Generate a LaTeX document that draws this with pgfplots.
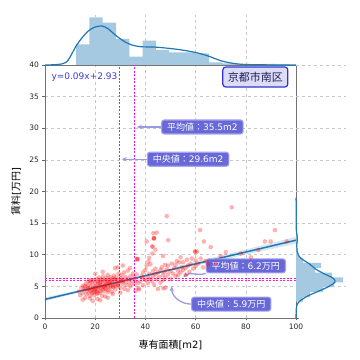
\documentclass[border=0pt]{standalone}
\usepackage{fontspec}
\setmainfont{DejaVu Sans}
\newfontfamily\jp{Noto Sans CJK JP}
\usepackage{pgfplots}
\usepackage{pgfplotstable}
\pgfplotsset{compat=1.18}
\usetikzlibrary{arrows.meta}
\definecolor{tabblue}{RGB}{31,119,180}
\definecolor{histblue}{RGB}{165,201,225}
\definecolor{boxfill}{RGB}{104,104,216}
\definecolor{boxdraw}{RGB}{165,165,236}
\definecolor{arrowc}{RGB}{155,155,225}
\definecolor{eqblue}{RGB}{60,60,210}
\definecolor{gridc}{RGB}{200,200,200}
\definecolor{kyfill}{RGB}{220,220,245}
\definecolor{kydraw}{RGB}{50,50,220}
\definecolor{kytext}{RGB}{30,30,90}
\definecolor{mag}{RGB}{235,20,235}
\definecolor{mag2}{RGB}{255,40,180}

\pgfplotstableread{
x y
13.5 4.2
14 3.6
14.5 4.8
15 3.9
15.2 5.1
15.5 4.4
16 3.2
16 4.6
16.3 5.4
16.5 3.8
17 4.1
17 5.0
17.2 5.8
17.5 4.5
17.8 3.5
18 4.9
18 5.5
18.2 4.2
18.5 6.0
18.6 3.9
19 4.7
19 5.2
19.2 5.9
19.5 4.4
19.6 3.6
20 5.0
20 5.6
20.2 4.1
20.5 6.2
20.5 4.8
20.8 3.8
21 5.3
21 4.5
21.2 5.9
21.5 4.9
21.6 6.4
22 5.1
22 4.3
22.2 5.7
22.5 4.7
22.5 6.1
22.8 3.5
23 5.4
23 4.9
23.2 6.6
23.5 5.0
23.6 4.2
24 5.8
24 5.2
24.2 4.6
24.5 6.3
24.6 5.5
25 5.0
25 6.8
25.2 4.4
25.5 5.7
25.6 6.1
26 5.3
26 4.7
26.2 6.5
26.5 5.9
26.6 4.1
27 5.5
27 6.2
27.3 4.9
27.5 6.7
27.8 5.1
28 5.8
28 4.5
28.3 6.4
28.5 5.3
29 6.0
29 5.0
29.3 7.0
29.5 5.6
30 6.3
30 4.8
30.3 5.9
30.5 6.8
31 5.4
31 6.1
31.5 7.2
31.6 4.6
32 5.8
32 6.5
32.5 5.2
33 6.2
33 7.5
33.5 5.6
34 6.6
34 5.0
34.5 6.0
35 7.0
35 5.4
35.5 6.4
36 5.8
36 4.3
36.5 6.9
37 5.5
37.5 4.5
15 2.9
18 3.1
21 3.0
24 3.4
27 3.8
30 4.0
20 7.0
23 7.3
27.9 7.9
29 8.0
31 8.3
25 3.2
33 4.4
19 2.7
22 2.8
21 4.0
23 4.5
25 4.1
18.5 4.5
20 4.3
22 5.5
24 4.8
26 5.8
33.9 7.9
37.2 4.7
39.2 6.3
17 4.6
19 4.0
21 5.6
23 6.0
25 5.4
27 5.0
29 5.4
31 5.8
16 5.0
18 5.8
20 4.6
22 4.0
24 6.0
26 5.0
28 6.1
38 5.8
38.5 6.6
39 7.2
39 5.2
40 6.0
40 7.6
40.5 8.3
41 6.4
41 5.5
41.5 7.0
42 6.2
42 8.5
42.5 5.8
43 7.4
43 6.6
43.5 5.3
44 6.9
44 7.8
44.5 6.1
45 7.2
45 4.6
45.5 6.5
46 7.6
46 5.6
46.5 8.0
47 6.8
47 6.0
47.5 7.3
48 4.8
48 6.4
48.5 7.7
49 8.3
49 6.9
50 7.4
50 6.2
50.5 8.6
51 7.0
51.5 7.9
52 6.6
52 8.4
52.5 9.0
53 7.5
53 6.8
53.5 8.8
54 7.2
54 9.6
54.5 8.0
55 7.6
55 8.8
56 7.9
56 6.8
56.5 9.2
57 8.3
57.5 7.3
58 8.6
58.5 9.4
59 7.8
60 8.2
60 9.1
60.5 10.5
61 8.6
62 9.4
63 8.0
64 9.0
65 8.5
47.1 4.7
47.8 8.4
41.2 8.9
40.5 12.1
43.2 13.4
43.4 12.6
43.4 12.6
43.4 12.6
42.8 11.3
42.8 11.3
42.8 10.2
44.5 13.5
49.1 12.3
48.5 16.1
36.8 9.3
36.8 9.3
36.8 9.3
61.8 13.9
63.3 12.1
59.8 10.5
59.8 10.5
74.4 17.5
85 10.75
87.6 12.1
89.9 12.1
91.6 13.9
96.3 12.1
41.5 9.5
44 10.8
47 9.8
66 11.2
70 9.8
68 8.6
72 10.4
78 10.2
82 9.6
}\scatterdata

\tikzset{abox/.style={fill=boxfill, draw=boxdraw, line width=1.1bp, rounded corners=2.5bp, text=white,
  font=\fontsize{9bp}{11bp}\selectfont, inner xsep=5.5bp, inner ysep=0pt, minimum height=14bp},
  aarrow/.style={arrowc, line width=1.3bp, -{Stealth[length=5bp, width=4.5bp]}}}

\begin{document}
\begin{tikzpicture}
\path[use as bounding box] (0,0) rectangle (360bp,360bp);
% main axis
\begin{axis}[at={(45bp,42bp)}, anchor=south west, scale only axis,
  width=251bp, height=253bp,
  xmin=0, xmax=100, ymin=0, ymax=40,
  xtick={0,20,...,100}, ytick={0,5,...,40},
  grid=major, grid style={gridc, dashed, line width=0.5bp},
  axis line style={black!55, line width=0.8bp},
  tick style={black!60, line width=0.6bp},
  tick align=outside, major tick length=2.5bp,
  xtick pos=left, ytick pos=both,
  /pgf/number format/assume math mode=true,
  ticklabel style={font=\fontsize{7.5bp}{9bp}\selectfont, text=black!85},
  xlabel={{\jp 専有面積}[m2]}, ylabel={{\jp 賃料}[{\jp 万円}]},
  label style={font=\fontsize{9.5bp}{11bp}\selectfont, text=black!85},
  every axis x label/.style={at={(axis description cs:0.5,-0.107)}, anchor=center},
  every axis y label/.style={at={(axis description cs:-0.115,0.5)}, anchor=center, rotate=90},
  clip=false]
\addplot[only marks, mark=*, mark size=2.3bp, mark options={draw opacity=0, fill=red, fill opacity=0.3}] table[x=x, y=y] {\scatterdata};
% confidence band
\addplot[draw=none, fill=tabblue, fill opacity=0.18] coordinates {
(0,3.25)(10,4.105)(20,4.97)(30,5.875)(40,6.83)(50,7.825)(60,8.83)(70,9.835)(80,10.84)(90,11.845)(100,12.85)
(100,11.75)(90,10.885)(80,10.02)(70,9.155)(60,8.29)(50,7.425)(40,6.55)(30,5.635)(20,4.67)(10,3.665)(0,2.65)} \closedcycle;
\addplot[tabblue, line width=1.5bp] coordinates {(0,2.95)(100,12.3)};
% mean / median lines
\addplot[draw=mag, dash pattern=on 2.2bp off 1.3bp, line width=0.8bp] coordinates {(35.5,0)(35.5,40)};
\addplot[draw=mag, dash pattern=on 2.2bp off 1.3bp, line width=0.8bp] coordinates {(29.6,0)(29.6,40)};
\addplot[draw=mag, dash pattern=on 2.2bp off 1.3bp, line width=0.8bp] coordinates {(0,6.2)(100,6.2)};
\addplot[draw=mag2, dash pattern=on 2.2bp off 1.3bp, line width=0.8bp] coordinates {(0,5.9)(100,5.9)};
% annotations
\node[font=\fontsize{9bp}{11bp}\selectfont, text=eqblue, anchor=west] at (axis cs:1.2,38.1) {y=0.09x+2.93};
\node[fill=kyfill, draw=kydraw, line width=1.2bp, rounded corners=3bp, text=kytext,
  font=\jp\fontsize{11bp}{13bp}\selectfont, inner xsep=5bp, inner ysep=0pt, minimum height=20bp]
  at (axis cs:83.8,38.1) {京都市南区};
\node[abox] (b1) at (axis cs:62.7,30.2) {{\jp 平均値：}35.5m2};
\node[abox] (b2) at (axis cs:57.0,25.1) {{\jp 中央値：}29.6m2};
\node[abox] (b3) at (axis cs:80.0,8.25) {{\jp 平均値：}6.2{\jp 万円}};
\node[abox] (b4) at (axis cs:74.2,2.2) {{\jp 中央値：}5.9{\jp 万円}};
\draw[aarrow] (b1.west) -- (axis cs:36.6,30.2);
\draw[aarrow] (b2.west) -- (axis cs:30.6,25.1);
\draw[aarrow] (b3.south west) to[out=200, in=40] (axis cs:55.2,6.5);
\draw[aarrow] (b4.west) to[out=180, in=-90] (axis cs:50.5,5.0);
\end{axis}
% top marginal
\begin{axis}[at={(45bp,295bp)}, anchor=south west, scale only axis,
  width=251bp, height=50bp,
  xmin=0, xmax=100, ymin=0, ymax=50,
  axis line style={draw=none}, major tick length=0pt,
  xtick={20,40,60,80}, xticklabel=\empty, ytick=\empty,
  xmajorgrids, grid style={gridc, dashed, line width=0.5bp}, clip=false]
\addplot[const plot, fill=histblue, draw=none] coordinates {
(12.4,20.6)(17.7,47.6)(23.0,42.3)(28.3,26)(33.6,8.3)(38.9,24.3)(44.2,15)(49.5,12.6)(54.8,12.6)(60.1,11.6)(65.4,2.6)(70.7,1.5)(76.0,0.8)(81.3,0.5)(86.6,1.0)(91.9,0.7)(97.2,0.7)} \closedcycle;
\addplot[tabblue, line width=1.2bp, smooth] coordinates {
(0,0)(4,0.3)(7,1.2)(8.6,3)(10,8)(12.4,19)(15,28)(17.5,34.5)(20,38)(22.6,39)(25,36.5)(28,30)(31,24.5)(34,20.5)(38,18.3)(43,18)(48,17)(54,15.2)(60,12.5)(65,9)(70,4.3)(75,1.6)(80,0.5)(90,0.1)(100,0)};
\end{axis}
% right marginal
\begin{axis}[at={(296bp,42bp)}, anchor=south west, scale only axis,
  width=50bp, height=253bp,
  xmin=0, xmax=50, ymin=0, ymax=40,
  axis line style={draw=none}, major tick length=0pt,
  ytick={5,10,...,40}, yticklabel=\empty, xtick=\empty,
  ymajorgrids, grid style={gridc, dashed, line width=0.5bp}, clip=false]
\addplot[fill=histblue, draw=none] coordinates {
(0,2.58)(7,2.58)(7,3.345)(14,3.345)(14,4.11)(27,4.11)(27,4.875)(38,4.875)(38,5.64)(47,5.64)(47,6.405)(36,6.405)(36,7.17)(19,7.17)(19,7.935)(25,7.935)(25,8.7)(7,8.7)(7,9.465)(3,9.465)(3,10.23)(1.2,10.23)(1.2,10.995)(0.8,10.995)(0.8,11.76)(1.5,11.76)(1.5,13.29)(0.8,13.29)(0.8,14.055)(0,14.055)} -- cycle;
\addplot[tabblue, line width=1.2bp, smooth] coordinates {
(0,0)(0.2,1)(0.8,2)(4,2.7)(12,3.5)(22,4.2)(33,5.0)(39,5.7)(37,6.3)(28,7.0)(20,7.7)(13,8.6)(6,9.3)(2.5,9.9)(1.2,10.5)(0.8,11.5)(1.3,12.3)(1.1,13)(0.3,14)(0.1,16)(0.3,17.5)(0,19)};
\end{axis}
\end{tikzpicture}
\end{document}
